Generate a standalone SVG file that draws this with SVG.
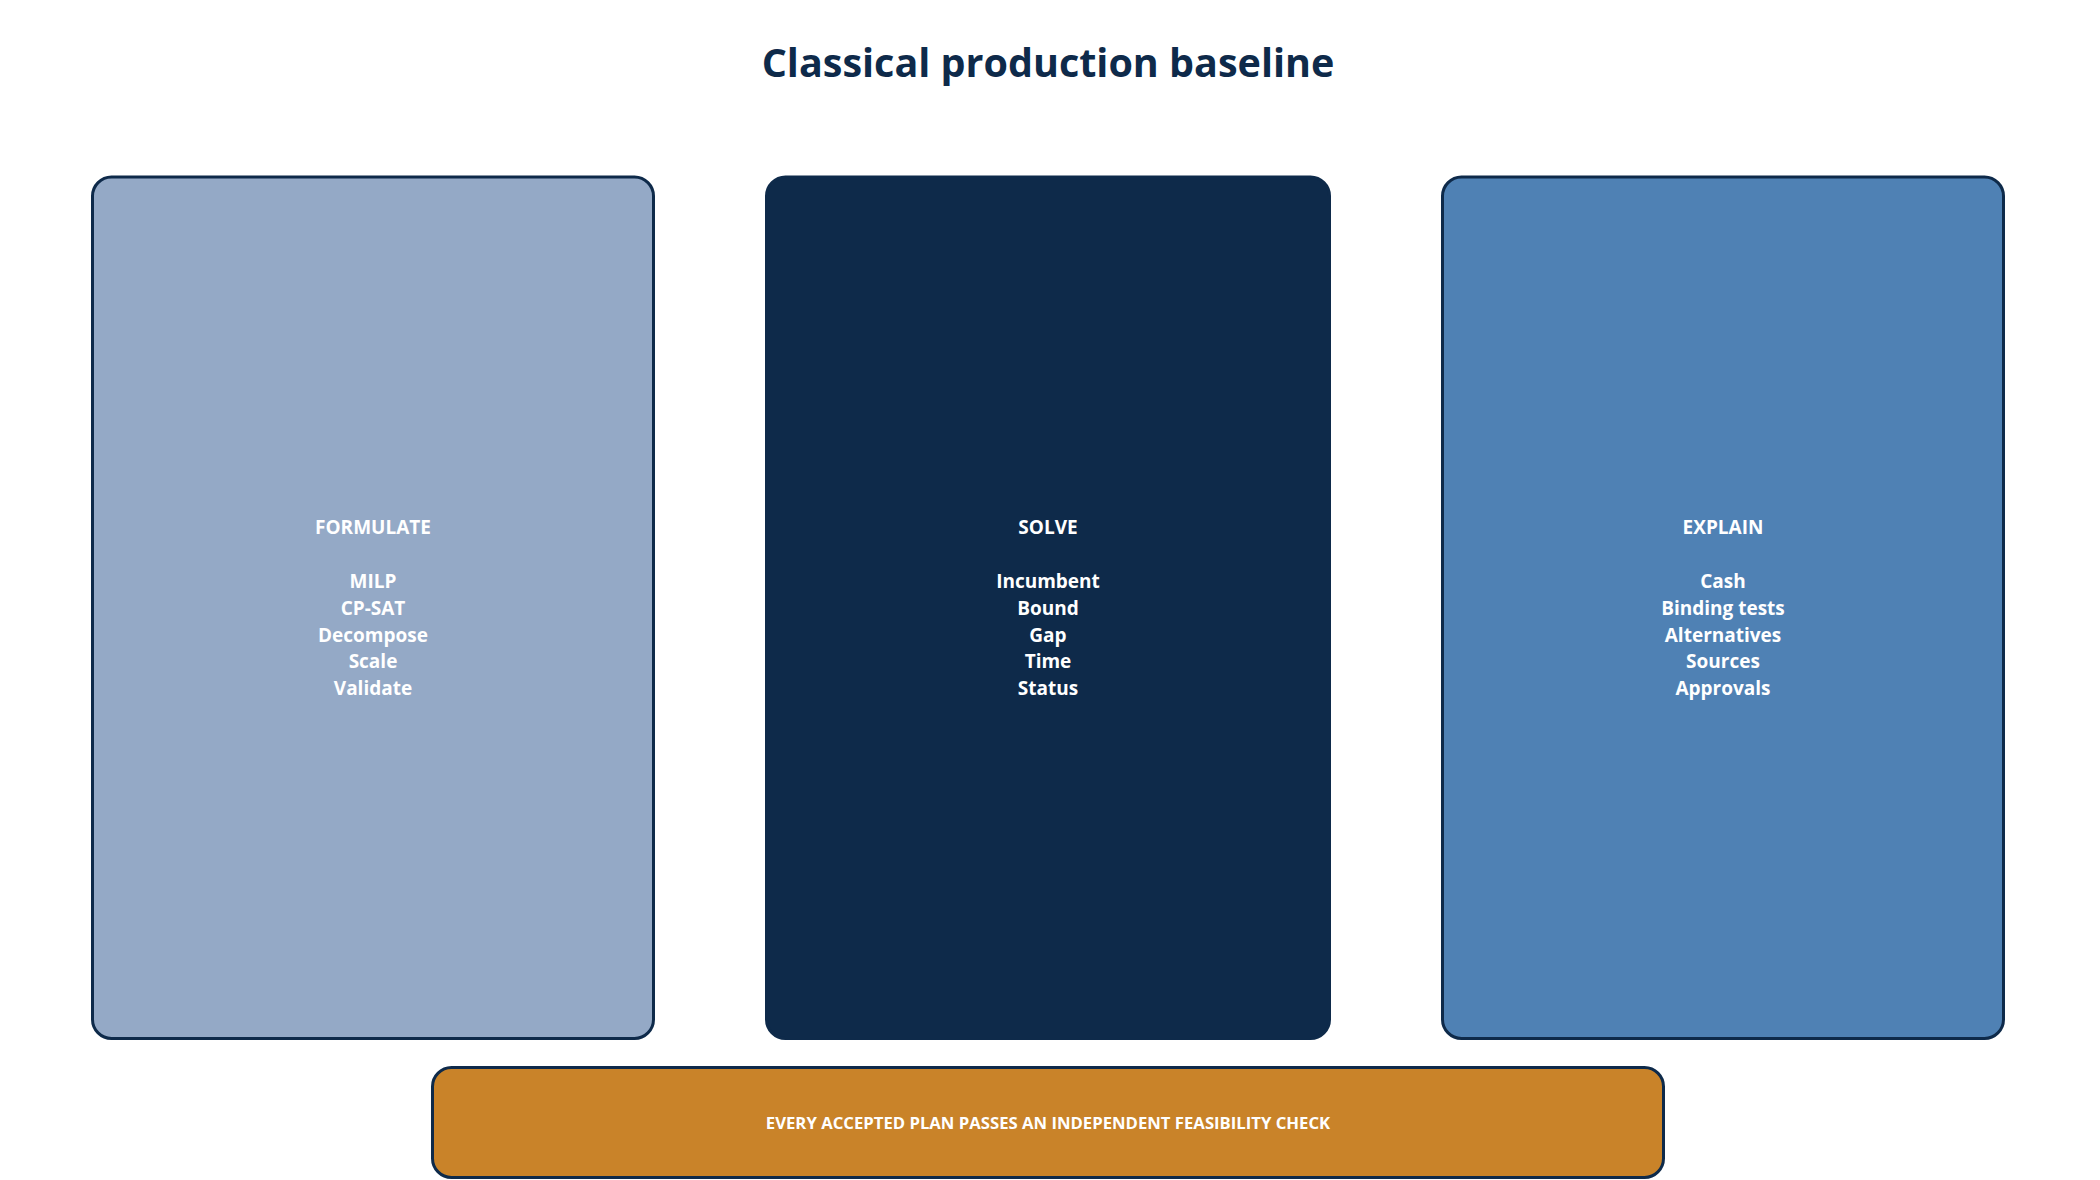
<svg xmlns="http://www.w3.org/2000/svg" width="2100" height="1180" viewBox="0 0 2100 1180">
  <style>
    .title { font-family: "Open Sans", "Noto Sans", "Liberation Sans", sans-serif; font-weight: 700; font-size: 39.5px; fill: #0e2a4a; text-anchor: middle; }
    .card { stroke: #0e2a4a; stroke-width: 3; }
    .lbl { font-family: "Open Sans", "Noto Sans", "Liberation Sans", sans-serif; font-weight: 700; font-size: 19px; fill: #ffffff; text-anchor: middle; }
    .bar { font-family: "Open Sans", "Noto Sans", "Liberation Sans", sans-serif; font-weight: 700; font-size: 16.7px; fill: #ffffff; text-anchor: middle; }
  </style>
  <rect x="0" y="0" width="2100" height="1180" fill="#ffffff"/>
  <text class="title" x="1048" y="76.5">Classical production baseline</text>

  <g id="connectors"></g>

  <g id="formulate">
    <rect class="card" x="92.5" y="177" width="561" height="861.5" rx="19" fill="#94a9c6"/>
    <text class="lbl" x="373" y="534">FORMULATE</text>
    <text class="lbl" x="373" y="588">MILP</text>
    <text class="lbl" x="373" y="614.8">CP-SAT</text>
    <text class="lbl" x="373" y="641.6">Decompose</text>
    <text class="lbl" x="373" y="668.4">Scale</text>
    <text class="lbl" x="373" y="695.2">Validate</text>
  </g>

  <g id="solve">
    <rect class="card" x="766.5" y="177" width="563" height="861.5" rx="19" fill="#0e2a4a"/>
    <text class="lbl" x="1048" y="534">SOLVE</text>
    <text class="lbl" x="1048" y="588">Incumbent</text>
    <text class="lbl" x="1048" y="614.8">Bound</text>
    <text class="lbl" x="1048" y="641.6">Gap</text>
    <text class="lbl" x="1048" y="668.4">Time</text>
    <text class="lbl" x="1048" y="695.2">Status</text>
  </g>

  <g id="explain">
    <rect class="card" x="1442.5" y="177" width="561" height="861.5" rx="19" fill="#4f81b4"/>
    <text class="lbl" x="1723" y="534">EXPLAIN</text>
    <text class="lbl" x="1723" y="588">Cash</text>
    <text class="lbl" x="1723" y="614.8">Binding tests</text>
    <text class="lbl" x="1723" y="641.6">Alternatives</text>
    <text class="lbl" x="1723" y="668.4">Sources</text>
    <text class="lbl" x="1723" y="695.2">Approvals</text>
  </g>

  <g id="feasibility">
    <rect class="card" x="432.5" y="1067.5" width="1231" height="110" rx="19" fill="#c98329"/>
    <text class="bar" x="1048" y="1129">EVERY ACCEPTED PLAN PASSES AN INDEPENDENT FEASIBILITY CHECK</text>
  </g>
</svg>
